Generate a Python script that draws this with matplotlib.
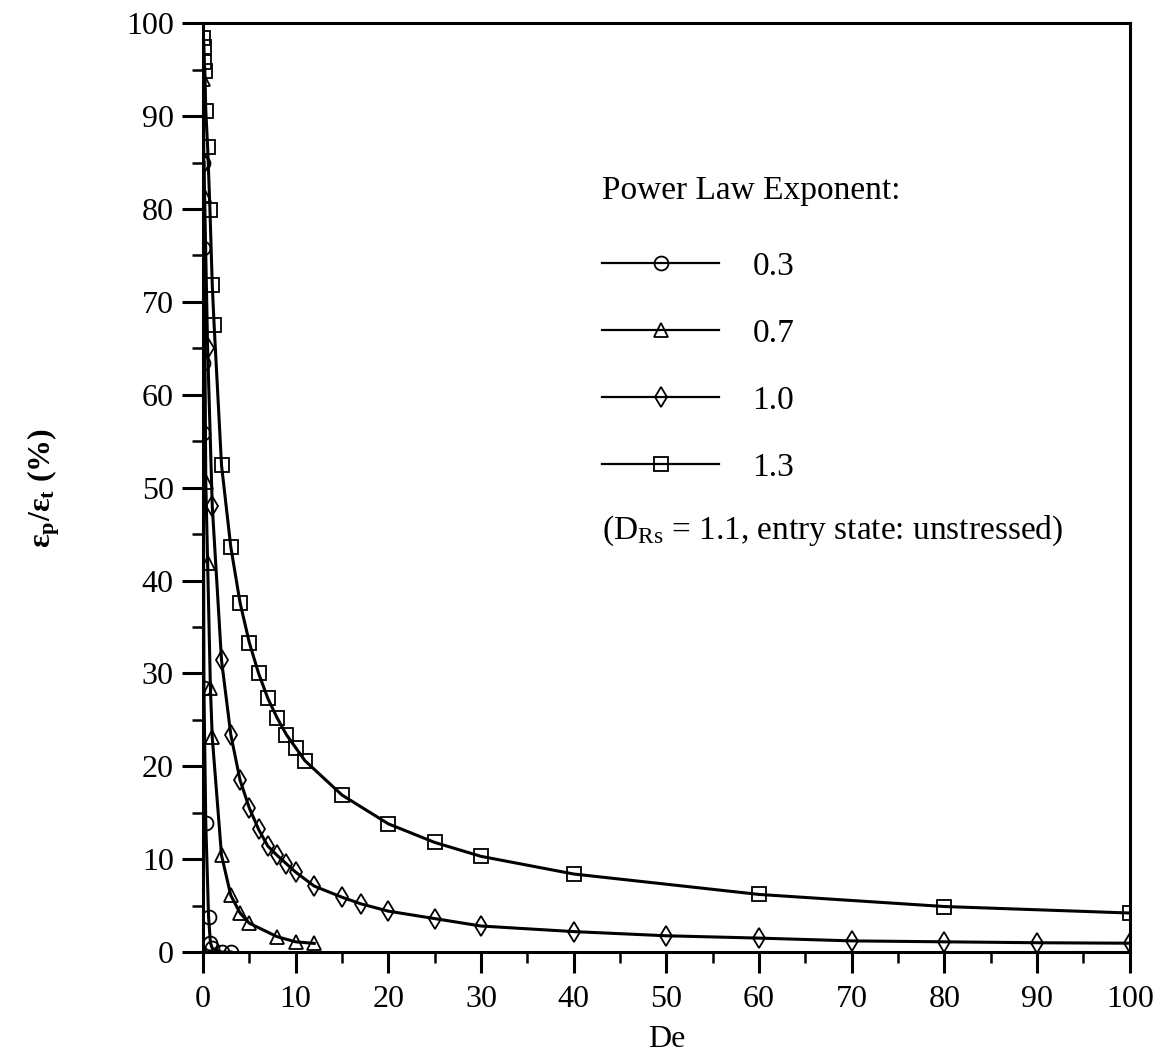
import matplotlib
matplotlib.use('Agg')
import matplotlib.pyplot as plt
from matplotlib.ticker import MultipleLocator

plt.rcParams['font.family'] = ['Liberation Serif', 'DejaVu Serif']
plt.rcParams['mathtext.fontset'] = 'custom'
plt.rcParams['mathtext.rm'] = 'Liberation Serif'
plt.rcParams['mathtext.it'] = 'Liberation Serif:italic'
plt.rcParams['mathtext.bf'] = 'Liberation Serif:bold'

# plastic strain fraction vs Deborah number, one curve per power law exponent
de_03 = [0.005, 0.01, 0.02, 0.03, 0.1, 0.3, 0.6, 0.8, 1.0, 2, 3]
ep_03 = [85.0, 75.8, 63.4, 55.9, 28.4, 13.9, 3.8, 1.0, 0.4, 0.0, 0.0]

de_07 = [0.05, 0.1, 0.3, 0.5, 0.8, 1.0, 2, 3, 4, 5, 8, 10, 12]
ep_07 = [94.0, 81.5, 50.6, 41.9, 28.4, 23.1, 10.4, 6.1, 4.2, 3.1, 1.65, 1.1, 0.93]

de_10 = [0.1, 0.5, 1, 2, 3, 4, 5, 6, 7, 8, 9, 10, 12, 15, 17, 20, 25, 30,
         40, 50, 60, 70, 80, 90, 100]
ep_10 = [85.0, 65.0, 48.0, 31.4, 23.4, 18.5, 15.5, 13.2, 11.4, 10.4, 9.5, 8.6,
         7.1, 5.9, 5.2, 4.4, 3.6, 2.8, 2.2, 1.75, 1.5, 1.2, 1.1, 1.0, 0.95]

de_13 = [0.05, 0.1, 0.15, 0.2, 0.3, 0.5, 0.75, 1.0, 1.2, 2, 3, 4, 5, 6, 7, 8,
         9, 10, 11, 15, 20, 25, 30, 40, 60, 80, 100]
ep_13 = [98.4, 97.4, 95.8, 94.9, 90.6, 86.7, 79.9, 71.8, 67.5, 52.4, 43.6, 37.6,
         33.3, 30.0, 27.3, 25.2, 23.4, 22.0, 20.6, 16.9, 13.8, 11.8, 10.3, 8.4,
         6.2, 4.9, 4.2]

exponents = ['0.3', '0.7', '1.0', '1.3']
markers = ['o', '^', 'd', 's']

fig = plt.figure(figsize=(11.6, 10.55), dpi=100)
ax = fig.add_axes([0.175, 0.0976, 0.799, 0.8804])

series = [(de_03, ep_03), (de_07, ep_07), (de_10, ep_10), (de_13, ep_13)]
for (x, y), m, lab in zip(series, markers, exponents):
    ax.plot(x, y, color='black', lw=2.2, marker=m, ms=10,
            mfc='none', mec='black', mew=1.3, label=lab)

ax.set_xlim(0, 100)
ax.set_ylim(0, 100)
ax.xaxis.set_major_locator(MultipleLocator(10))
ax.xaxis.set_minor_locator(MultipleLocator(5))
ax.yaxis.set_major_locator(MultipleLocator(10))
ax.yaxis.set_minor_locator(MultipleLocator(5))
ax.tick_params(which='major', direction='out', length=15, width=2.2,
               labelsize=23, pad=6)
ax.tick_params(axis='x', which='major', pad=9)
ax.tick_params(which='minor', direction='out', length=8, width=1.8)
for s in ax.spines.values():
    s.set_linewidth(2.2)

ax.set_xlabel('De', fontsize=23, labelpad=8)
ax.set_ylabel(r'$\mathbf{ε_p/ε_t}$ (%)', fontsize=23, fontweight='bold',
              labelpad=46)

# legend block: heading, four entries, then the run conditions
ax.text(0.431, 0.820, 'Power Law Exponent:', transform=ax.transAxes,
        fontsize=24, va='center', ha='left')
leg = ax.legend(loc='center left', bbox_to_anchor=(0.431, 0.6297),
                frameon=False, fontsize=24, handlelength=3.5,
                handletextpad=1.0, labelspacing=1.1, borderpad=0,
                borderaxespad=0, numpoints=1)
for h in leg.legend_handles:
    h.set_linewidth(1.6)

ax.text(0.431, 0.454, r'(D$_{\mathrm{Rs}}$ = 1.1, entry state: unstressed)',
        transform=ax.transAxes, fontsize=24, va='center', ha='left')

fig.savefig('out.png', dpi=100)
